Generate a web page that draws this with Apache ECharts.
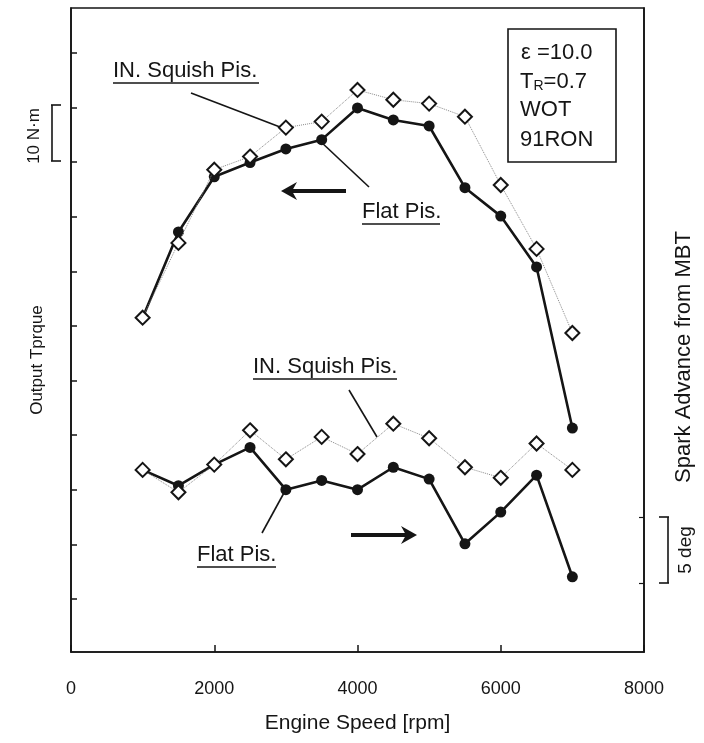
<!DOCTYPE html>
<html><head><meta charset="utf-8">
<script src="https://cdn.jsdelivr.net/npm/echarts@6/dist/echarts.min.js"></script>
<style>html,body{margin:0;padding:0;background:#fff}#c{width:704px;height:743px}</style>
</head><body><div id="c"></div>
<script>
// ---- data ----
const rpm = [1000,1500,2000,2500,3000,3500,4000,4500,5000,5500,6000,6500,7000];
const torqueFlat   = [81.5,97.2,107.3,109.9,112.4,114.1,119.9,117.7,116.6,105.3,100.1,90.8,61.3];
const torqueSquish = [81.5,95.2,108.6,111.0,116.3,117.4,123.2,121.4,120.7,118.3,105.8,94.1,78.7];
const sparkFlat    = [-1.4,-2.6,-1.0,0.3,-2.9,-2.2,-2.9,-1.2,-2.1,-7.0,-4.6,-1.8,-9.5];
const sparkSquish  = [-1.4,-3.1,-1.0,1.6,-0.6,1.1,-0.2,2.1,1.0,-1.2,-2.0,0.6,-1.4];
const xTickLabels  = [0,2000,4000,6000,8000];
const torqueTicks  = [30,40,50,60,70,80,90,100,110,120,130];
const sparkTicks   = [-10,-5];

const pairs = (ys) => rpm.map((x,i)=>[x, ys[i]]);
const FONT = 'Liberation Sans, Arial, sans-serif';
const INK = '#151515';

const chart = echarts.init(document.getElementById('c'), null, {renderer:'canvas'});

const flatStyle = {
  type:'line', symbol:'circle', symbolSize:11, z:3,
  lineStyle:{color:INK,width:2.6}, itemStyle:{color:INK}
};
const squishStyle = {
  type:'line', symbol:'diamond', symbolSize:14, z:4,
  lineStyle:{color:'#8a8a8a',width:1,type:'dotted'},
  itemStyle:{color:'#fff',borderColor:INK,borderWidth:2}
};

function txt(x,y,text,size,opts){
  return Object.assign({type:'text',x:x,y:y,z:10,style:{text:text,fill:INK,font:size+'px '+FONT,align:'left',verticalAlign:'middle'}},opts||{});
}
function vtxt(x,y,text,size){
  return {type:'text',x:x,y:y,z:10,rotation:Math.PI/2,style:{text:text,fill:INK,font:size+'px '+FONT,align:'center',verticalAlign:'middle'}};
}
function ln(x1,y1,x2,y2,w){
  return {type:'line',z:10,shape:{x1:x1,y1:y1,x2:x2,y2:y2},style:{stroke:INK,lineWidth:w||1.5}};
}
function arrow(x1,y,x2){
  const d = x2 > x1 ? 1 : -1;
  return [
    {type:'line',z:10,shape:{x1:x1,y1:y,x2:x2-d*8,y2:y},style:{stroke:INK,lineWidth:4}},
    {type:'polygon',z:10,shape:{points:[[x2,y],[x2-d*16,y-9],[x2-d*11,y],[x2-d*16,y+9]]},style:{fill:INK}}
  ];
}

const graphics = [
  // legend box
  {type:'rect',z:9,shape:{x:508,y:29,width:108,height:133},style:{fill:'#fff',stroke:INK,lineWidth:1.6}},
  txt(521,53,'ε =10.0',22),
  {type:'text',x:520,y:82,z:10,style:{text:'{a|T}{s|R}{a|=0.7}',verticalAlign:'middle',rich:{a:{font:'22px '+FONT,fill:INK},s:{font:'14px '+FONT,fill:INK,verticalAlign:'bottom',padding:[8,0,0,0]}}}},
  txt(520,110,'WOT',22),
  txt(520,140,'91RON',22),
  // upper labels
  txt(113,71,'IN. Squish Pis.',22), ln(113,83,259,83,1.5), ln(191,93,280,127,1.6),
  txt(362,212,'Flat Pis.',22), ln(362,224,440,224,1.5), ln(320,141,369,187,1.6),
  ...arrow(346,191,281),
  // lower labels
  txt(253,367,'IN. Squish Pis.',22), ln(253,379,397,379,1.5), ln(349,390,377,437,1.6),
  txt(197,555,'Flat Pis.',22), ln(197,567,276,567,1.5), ln(262,533,285,491,1.6),
  ...arrow(351,535,417),
  // axis titles
  vtxt(37,360,'Output Tprque',17),
  vtxt(684,357,'Spark Advance from MBT',22),
  // 10 N.m bracket
  ln(52,105,52,161,1.6), ln(51,105,61,105,1.6), ln(51,161,61,161,1.6),
  vtxt(34,136,'10 N·m',17),
  // 5 deg bracket
  ln(668,517,668,583,1.6), ln(659,517,669,517,1.6), ln(659,583,669,583,1.6),
  vtxt(686,550,'5 deg',19)
];

chart.setOption({
  animation:false,
  backgroundColor:'#fff',
  grid:{left:71,right:60,top:8,bottom:91,show:true,borderColor:INK,borderWidth:1.6,backgroundColor:'transparent'},
  xAxis:{
    type:'value',min:xTickLabels[0],max:xTickLabels[xTickLabels.length-1],interval:2000,
    name:'Engine Speed [rpm]',nameLocation:'middle',nameGap:61,
    nameTextStyle:{fontFamily:FONT,fontSize:21,color:INK},
    axisLine:{show:true,onZero:false,lineStyle:{color:INK,width:1.6}},
    axisTick:{show:true,inside:true,length:7,lineStyle:{color:INK,width:1.5}},
    axisLabel:{margin:28,fontFamily:FONT,fontSize:18,color:INK,formatter:(v)=>String(v)},
    splitLine:{show:false}
  },
  yAxis:[
    {type:'value',position:'left',min:20.3,max:138.2,
     axisLine:{show:true,onZero:false,lineStyle:{color:INK,width:1.6}},
     axisTick:{show:true,inside:true,length:6,customValues:torqueTicks,lineStyle:{color:INK,width:1.5}},
     axisLabel:{show:false},splitLine:{show:false}},
    {type:'value',position:'right',min:-15.2,max:33.6,
     axisLine:{show:true,onZero:false,lineStyle:{color:INK,width:1.6}},
     axisTick:{show:true,inside:true,length:5,customValues:sparkTicks,lineStyle:{color:INK,width:1.2}},
     axisLabel:{show:false},splitLine:{show:false}}
  ],
  series:[
    Object.assign({name:'Flat Pis. torque',yAxisIndex:0,data:pairs(torqueFlat)},flatStyle),
    Object.assign({name:'IN. Squish Pis. torque',yAxisIndex:0,data:pairs(torqueSquish)},squishStyle),
    Object.assign({name:'Flat Pis. spark',yAxisIndex:1,data:pairs(sparkFlat)},flatStyle),
    Object.assign({name:'IN. Squish Pis. spark',yAxisIndex:1,data:pairs(sparkSquish)},squishStyle)
  ],
  graphic:graphics
});
</script></body></html>
